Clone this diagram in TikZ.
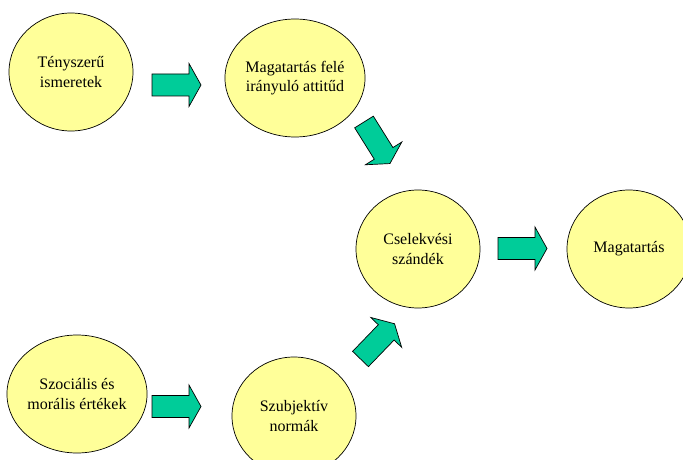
\documentclass[tikz,border=0pt]{standalone}
\usepackage{fontspec}
\setmainfont{Liberation Serif}
\usetikzlibrary{shapes.geometric}

\definecolor{circfill}{HTML}{FFFF99}
\definecolor{arrfill}{HTML}{00CC99}

\tikzset{
  bubble/.style={ellipse, draw=black, fill=circfill, line width=0.7pt,
    minimum width=124pt, minimum height=118pt, inner sep=0pt, align=center,
    font=\fontsize{16}{19.5}\selectfont},
  blockarrow/.pic={
    \draw[fill=arrfill, line width=0.7pt, line join=miter]
      (0,-11) -- (37,-11) -- (37,-21.5) -- (49,0) -- (37,21.5) -- (37,11) -- (0,11) -- cycle;
  }
}

\begin{document}
\begin{tikzpicture}[x=1pt, y=-1pt]
  \clip (0,0) rectangle (683,460);

  % circles
  \node[bubble] (teny) at (71,72) {Tényszerű\\ismeretek};
  \node[bubble] (attitud) at (295,78) {Magatartás felé\\irányuló attitűd};
  \node[bubble] (szandek) at (418,249) {Cselekvési\\szándék};
  \node[bubble] (magatartas) at (629,249) {Magatartás};
  \node[bubble] (ertekek) at (77,394) {Szociális és\\morális értékek};
  \node[bubble] (normak) at (294,416) {Szubjektív\\normák};

  % block arrows
  \pic at (152,85) {blockarrow};
  \pic[rotate=-58] at (364,122) {blockarrow};
  \pic[rotate=46] at (360.5,359) {blockarrow};
  \pic at (498,248.5) {blockarrow};
  \pic at (152,406.5) {blockarrow};
\end{tikzpicture}
\end{document}
